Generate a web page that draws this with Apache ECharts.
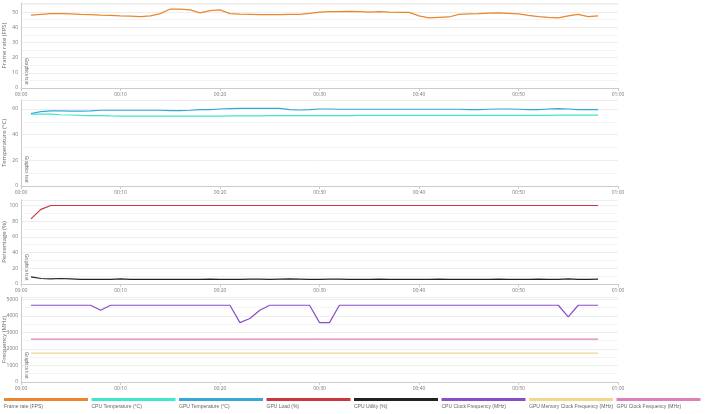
<!DOCTYPE html>
<html><head><meta charset="utf-8">
<script src="https://cdn.jsdelivr.net/npm/echarts@6/dist/echarts.min.js"></script>
<style>html,body{margin:0;padding:0;background:#fff}#c{width:708px;height:414px}</style>
</head><body><div id="c"></div>
<script>
const seconds = [1,2,3,4,5,6,7,8,9,10,11,12,13,14,15,16,17,18,19,20,21,22,23,24,25,26,27,28,29,30,31,32,33,34,35,36,37,38,39,40,41,42,43,44,45,46,47,48,49,50,51,52,53,54,55,56,57,58];
const fps = [48,48.5,49,49,48.8,48.5,48.3,48,47.8,47.5,47.3,47,47.5,49,52,52,51.5,49.5,51,51.5,49,48.7,48.5,48.3,48.3,48.3,48.5,48.5,49.2,50,50.3,50.3,50.5,50.3,50,50.3,50,49.8,49.8,47.5,46.2,46.5,46.8,48.5,48.8,49,49.3,49.5,49.2,48.8,47.8,47,46.5,46.2,47.5,48.5,47,47.5];
const cpuTemp = [56,56,56,55.5,55.3,55,54.8,54.8,54.6,54.5,54.5,54.5,54.4,54.4,54.4,54.4,54.4,54.5,54.5,54.5,54.6,54.6,54.7,54.7,54.8,54.8,54.8,54.8,54.8,54.9,54.9,54.9,54.9,55,55,55,55,55,55,55,55,55,55,55,55,55,55,55,55,55,55,55,55,55.2,55.2,55.2,55.2,55.2];
const gpuTemp = [56.5,58,58.5,58.5,58.3,58.3,58.5,59,59,59,59,59,59,59,58.8,58.8,59,59.5,59.5,60,60.3,60.5,60.5,60.5,60.5,60.5,59.5,59.2,59.5,60,60,59.8,59.8,59.8,59.8,59.8,59.8,59.8,59.8,59.8,59.8,59.8,59.8,59.8,59.5,59.5,59.8,60,60,59.8,59.5,59.5,60,60.3,60,59.5,59.5,59.5];
const gpuLoad = [83,95,100,100,100,100,100,100,100,100,100,100,100,100,100,100,100,100,100,100,100,100,100,100,100,100,100,100,100,100,100,100,100,100,100,100,100,100,100,100,100,100,100,100,100,100,100,100,100,100,100,100,100,100,100,100,100,100];
const cpuUtil = [9,7,6.5,7,6.5,6,5.8,6,6,6.5,6,5.8,5.8,6,6,6,6,6,6.3,6,6,6,6.3,6.3,6,6.3,6.5,6.3,6,6,6.3,6.3,6,6,6,6.3,6,6,6,6,6,6.3,6,6,6,6,6,6.3,6,6,6,6.3,6,6,6.5,6,6,6.3];
const cpuClock = [4650,4650,4650,4650,4650,4650,4650,4350,4650,4650,4650,4650,4650,4650,4650,4650,4650,4650,4650,4650,4650,3600,3850,4350,4650,4650,4650,4650,4650,3600,3600,4650,4650,4650,4650,4650,4650,4650,4650,4650,4650,4650,4650,4650,4650,4650,4650,4650,4650,4650,4650,4650,4650,4650,3950,4650,4650,4650];
const gpuMemClock = seconds.map(()=>1750);
const gpuClock = seconds.map(()=>2600);
const names = ['Frame rate (FPS)','CPU Temperature (°C)','GPU Temperature (°C)','GPU Load (%)','CPU Utility (%)','CPU Clock Frequency (MHz)','GPU Memory Clock Frequency (MHz)','GPU Clock Frequency (MHz)'];
const colors = ['#e8872e','#3ee8c8','#35a8d8','#c8383c','#222222','#8a4cc8','#f0d890','#e080b8'];
const yNames = ['Frame rate (FPS)','Temperature (°C)','Percentage (%)','Frequency (MHz)'];
const tops = [3,100,200,297], bottoms=[88,186,284,382];
const yMax = [56,67,107,5150], yInt=[10,20,20,1000];
const fmt = v => { const m=Math.floor(v/60), s=v%60; return String(m).padStart(2,'0')+':'+String(s).padStart(2,'0'); };
const grids=[],xAxes=[],yAxes=[];
for(let i=0;i<4;i++){
  grids.push({left:21,right:90,top:tops[i],height:bottoms[i]-tops[i],containLabel:false,outerBoundsMode:'none'});
  xAxes.push({type:'value',gridIndex:i,min:0,max:60,interval:10,axisLine:{lineStyle:{color:'#ccc'}},axisTick:{length:3,lineStyle:{color:'#ccc'}},
    axisLabel:{fontSize:5,color:'#777',formatter:fmt,margin:4},splitLine:{show:false}});
  yAxes.push({type:'value',gridIndex:i,min:0,max:yMax[i],interval:yInt[i],name:yNames[i],nameLocation:'middle',nameGap:14,nameMoveOverlap:false,nameTextStyle:{fontSize:6,color:'#666'},
    axisLine:{show:true,lineStyle:{color:'#ccc'}},axisTick:{show:false},
    axisLabel:{fontSize:5,color:'#777',margin:3,showMaxLabel:false,formatter:v=>String(v)},splitLine:{lineStyle:{color:'#eee'}},
    minorTick:{show:false,splitNumber:2},minorSplitLine:{show:true,lineStyle:{color:'#f4f4f4'}}});
}
const data=[fps,cpuTemp,gpuTemp,gpuLoad,cpuUtil,cpuClock,gpuMemClock,gpuClock];
const gi=[0,1,1,2,2,3,3,3];
const series=data.map((d,k)=>({name:names[k],type:'line',xAxisIndex:gi[k],yAxisIndex:gi[k],showSymbol:false,
  data:seconds.map((s,j)=>[s,d[j]]),lineStyle:{color:colors[k],width:1.2},itemStyle:{color:colors[k]}}));
const graphic=[];
for(let i=0;i<4;i++){
  graphic.push({type:'text',x:29,y:bottoms[i]-30,rotation:-Math.PI/2,style:{text:'Graphics test',fontSize:4.5,fill:'#666'}});
}
names.forEach((n,k)=>{
  graphic.push({type:'rect',shape:{x:4+k*87.5,y:398,width:84,height:3},style:{fill:colors[k]}});
  graphic.push({type:'text',x:4+k*87.5,y:404,style:{text:n,fontSize:5,fill:'#666'}});
});
const chart=echarts.init(document.getElementById('c'));
chart.setOption({animation:false,textStyle:{fontFamily:'Open Sans'},grid:grids,xAxis:xAxes,yAxis:yAxes,series,graphic});
</script></body></html>
